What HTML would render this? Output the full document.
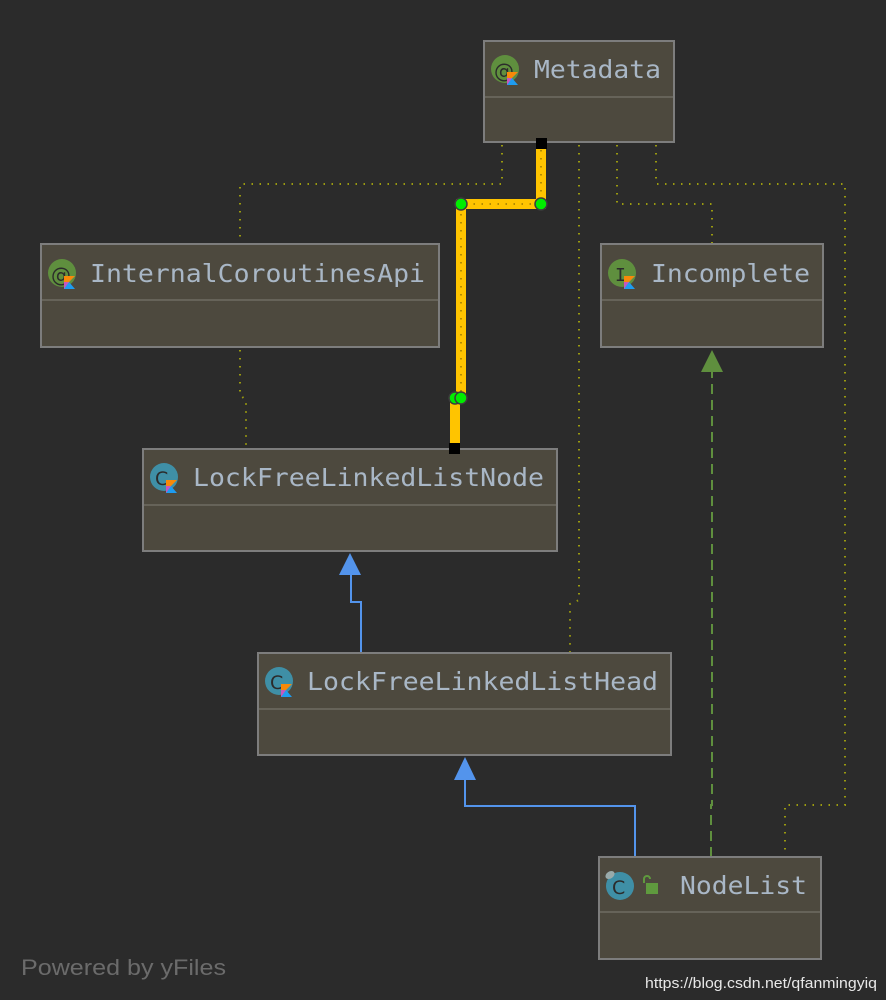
<!DOCTYPE html>
<html><head><meta charset="utf-8"><style>
html,body{margin:0;padding:0;background:#2b2b2b;}
svg{display:block}
.t{font-family:"DejaVu Sans Mono","Liberation Mono",monospace;font-size:25px;fill:#a9b7c6;}
</style></head><body>
<svg width="886" height="1000" viewBox="0 0 886 1000" xmlns="http://www.w3.org/2000/svg">
<rect width="886" height="1000" fill="#2b2b2b"/>
<defs>
<g id="kt"><polygon points="0,0 11,0 5,6 11,13 0,13" fill="#1e9cf0"/><polygon points="0,0 11,0 0,11" fill="#f88909"/><polygon points="0,13 0,6 5,6" fill="#c757bc"/></g>
</defs>
<g fill="none" stroke="#9a9a10" stroke-width="2" stroke-dasharray="1.5 6.5">
<polyline points="502,145 502,184 240,184 240,244"/>
<polyline points="579,145 579,600 570,604 570,653"/>
<polyline points="617,145 617,204 712,204 712,244"/>
<polyline points="656,145 656,184 845,184 845,805 785,805 785,857"/>
<polyline points="240,350 240,395 246,400 246,449"/>
</g>
<g fill="none" stroke="#ffc400" stroke-width="10">
<polyline points="541,145 541,204 461,204 461,398"/>
<polyline points="455,398 455,447"/>
</g>
<g fill="none" stroke="#9a7a00" stroke-width="1.5" stroke-dasharray="1.5 6.5">
<polyline points="541,150 541,204 461,204 461,398"/>
</g>
<g fill="#00ee00" stroke="#3c3c3c" stroke-width="1.5">
<circle cx="461" cy="204" r="6"/><circle cx="541" cy="204" r="6"/>
<circle cx="455" cy="398" r="6"/><circle cx="461" cy="398" r="6"/>
</g>
<g fill="none" stroke="#5394ec" stroke-width="2">
<polyline points="361,653 361,602 351,602 351,570"/>
<polyline points="635,857 635,806 465,806 465,775"/>
</g>
<polygon points="350,553 339,575 361,575" fill="#5394ec"/>
<polygon points="465,757 454,780 476,780" fill="#5394ec"/>
<polyline points="711,857 711,805 712,805 712,368" fill="none" stroke="#5f8f3e" stroke-width="2" stroke-dasharray="10 6"/>
<polygon points="712,350 701,372 723,372" fill="#5f8f3e"/>
<g fill="#4d493e" stroke="#7d7d7d" stroke-width="2">
<rect x="484" y="41" width="190" height="101"/>
<rect x="41" y="244" width="398" height="103"/>
<rect x="601" y="244" width="222" height="103"/>
<rect x="143" y="449" width="414" height="102"/>
<rect x="258" y="653" width="413" height="102"/>
<rect x="599" y="857" width="222" height="102"/>
</g>
<g stroke="#666359" stroke-width="2">
<line x1="485" y1="97" x2="673" y2="97"/>
<line x1="42" y1="300" x2="438" y2="300"/>
<line x1="602" y1="300" x2="822" y2="300"/>
<line x1="144" y1="505" x2="556" y2="505"/>
<line x1="259" y1="709" x2="670" y2="709"/>
<line x1="600" y1="912" x2="820" y2="912"/>
</g>
<rect x="536" y="138" width="11" height="11" fill="#000"/>
<rect x="449" y="443" width="11" height="11" fill="#000"/>
<g>
<circle cx="505" cy="69" r="14" fill="#5f8f3e"/><text x="494" y="78" font-family="DejaVu Sans" font-size="20" fill="#2b2b2b">@</text><use href="#kt" x="507" y="72"/>
<circle cx="62" cy="273" r="14" fill="#5f8f3e"/><text x="51" y="282" font-family="DejaVu Sans" font-size="20" fill="#2b2b2b">@</text><use href="#kt" x="64" y="276"/>
<circle cx="622" cy="273" r="14" fill="#5f8f3e"/><text x="615" y="281" font-family="DejaVu Sans Mono" font-size="18" fill="#2b2b2b">I</text><use href="#kt" x="624" y="276"/>
<circle cx="164" cy="477" r="14" fill="#3f8fa6"/><text x="155" y="485" font-family="DejaVu Sans" font-size="19" fill="#2b2b2b">C</text><use href="#kt" x="166" y="480"/>
<circle cx="279" cy="681" r="14" fill="#3f8fa6"/><text x="270" y="689" font-family="DejaVu Sans" font-size="19" fill="#2b2b2b">C</text><use href="#kt" x="281" y="684"/>
<circle cx="620" cy="886" r="14" fill="#3f8fa6"/><text x="612" y="894" font-family="DejaVu Sans" font-size="19" fill="#2b2b2b">C</text>
<ellipse cx="610" cy="875" rx="5" ry="3.5" fill="#9aa" transform="rotate(-35 610 875)"/>
<rect x="646" y="883" width="12" height="11" fill="#5f9a3e"/><path d="M644,883 V879 a3,3 0 0 1 6,0" fill="none" stroke="#5f9a3e" stroke-width="2"/>
</g>
<text class="t" x="534" y="78" textLength="127" lengthAdjust="spacingAndGlyphs">Metadata</text>
<text class="t" x="90" y="282" textLength="335" lengthAdjust="spacingAndGlyphs">InternalCoroutinesApi</text>
<text class="t" x="651" y="282" textLength="159" lengthAdjust="spacingAndGlyphs">Incomplete</text>
<text class="t" x="193" y="486" textLength="351" lengthAdjust="spacingAndGlyphs">LockFreeLinkedListNode</text>
<text class="t" x="307" y="690" textLength="351" lengthAdjust="spacingAndGlyphs">LockFreeLinkedListHead</text>
<text class="t" x="680" y="894" textLength="127" lengthAdjust="spacingAndGlyphs">NodeList</text>
<text x="21" y="975" font-family="Liberation Sans, sans-serif" font-size="22" fill="#6b6b6b" textLength="205" lengthAdjust="spacingAndGlyphs">Powered by yFiles</text>
<text x="645" y="988" font-family="Liberation Sans, sans-serif" font-size="15" fill="#e8e8e8" textLength="232" lengthAdjust="spacingAndGlyphs">https://blog.csdn.net/qfanmingyiq</text>
</svg>
</body></html>
